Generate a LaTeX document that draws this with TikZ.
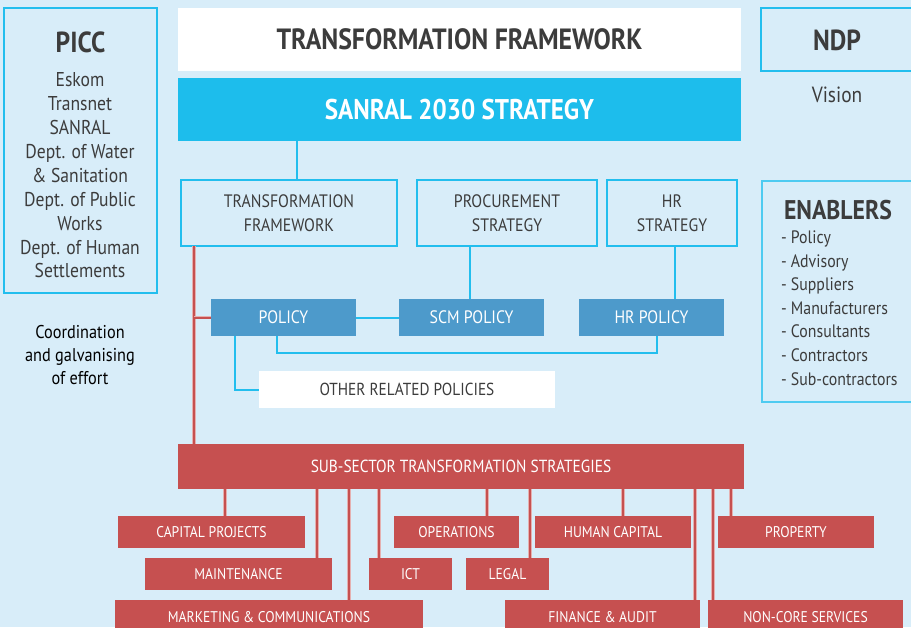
\documentclass[tikz,border=0pt]{standalone}
\usepackage{fontspec}
\setmainfont{PT Sans}[FakeStretch=0.88]
\usetikzlibrary{positioning}

\definecolor{bgblue}{HTML}{D8EDF9}
\definecolor{skyline}{HTML}{22BEEE}
\definecolor{sanralcyan}{HTML}{1DBDEC}
\definecolor{policyblue}{HTML}{4D9ACB}
\definecolor{sectorred}{HTML}{C65050}
\definecolor{textgray}{HTML}{3C3C3C}

\begin{document}
\begin{tikzpicture}[x=1pt, y=-1pt,
  every node/.style={inner sep=0pt, outer sep=0pt, text=textgray},
  frame/.style={draw=skyline, line width=2.4pt, anchor=north west},
  labelbox/.style={frame, fill=bgblue, minimum height=66pt, align=center, text depth=0pt, font=\fontsize{18}{23.5}\selectfont},
  polbox/.style={fill=policyblue, text=white, anchor=north west, minimum height=37pt, text depth=0pt, font=\fontsize{18}{20}\selectfont},
  redbox/.style={fill=sectorred, text=white, anchor=north west, minimum height=32pt, text depth=0pt, font=\fontsize{15.5}{18}\selectfont},
  headfont/.style={font=\fontsize{29}{32}\bfseries\selectfont},
  bodyfont/.style={font=\fontsize{20}{23.9}\selectfont, align=center},
  blueline/.style={draw=skyline, line width=2pt},
  redline/.style={draw=sectorred, line width=2pt, preaction={draw=white!55!sectorred, line width=3.4pt}},
]
\useasboundingbox (0,0) rectangle (911,627);
\clip (0,0) rectangle (911,627);
\fill[bgblue] (0,0) rectangle (911,627);

% left column
\node[frame, minimum width=153pt, minimum height=285pt] (picc) at (4,8) {};
\node[headfont, below=34pt of picc.north, anchor=center] (piccname) {PICC};
\node[bodyfont] (picclist) at (80,175.5) {Eskom\\Transnet\\SANRAL\\Dept. of Water\\\& Sanitation\\Dept. of Public\\Works\\Dept. of Human\\Settlements};
\node[font=\fontsize{18.5}{23}\selectfont, align=center, text=black] (coord) at (80,355) {Coordination\\and galvanising\\of effort};

% headings
\node[fill=white, anchor=north west, minimum width=563pt, minimum height=63pt, font=\fontsize{29.3}{32}\bfseries\selectfont] (tfhead) at (178,8) {TRANSFORMATION FRAMEWORK};
\node[fill=sanralcyan, text=white, anchor=north west, minimum width=563pt, minimum height=63pt, font=\fontsize{28.5}{32}\bfseries\selectfont] (sanral) at (178,78) {SANRAL 2030 STRATEGY};

% strategies
\node[labelbox, minimum width=216pt] (tf) at (181,180) {TRANSFORMATION\\FRAMEWORK};
\node[labelbox, minimum width=180pt] (proc) at (417,180) {PROCUREMENT\\STRATEGY};
\node[labelbox, minimum width=130pt] (hrs) at (607,180) {HR\\STRATEGY};

% policies
\node[polbox, minimum width=145pt] (policy) at (211,299) {POLICY};
\node[polbox, minimum width=145pt] (scm) at (399,299) {SCM POLICY};
\node[polbox, minimum width=145pt] (hrpol) at (579,299) {HR POLICY};
\node[fill=white, anchor=north west, minimum width=296pt, minimum height=37pt, text depth=0pt, font=\fontsize{17.4}{20}\selectfont] (other) at (259,371) {OTHER RELATED POLICIES};

% right column
\node[frame, minimum width=160pt, minimum height=63pt] (ndp) at (761,8) {};
\node[headfont] (ndpname) at (837,40) {NDP};
\node[font=\fontsize{22}{26}\selectfont] (vision) at (837,95) {Vision};
\node[frame, draw=skyline!80, minimum width=160pt, minimum height=221pt] (enablers) at (762,181) {};
\node[font=\fontsize{27}{30}\bfseries\selectfont] (enabname) at (838,210) {ENABLERS};
\node[anchor=west, align=left, font=\fontsize{18}{23.6}\selectfont] (enablist) at (781,308) {- Policy\\- Advisory\\- Suppliers\\- Manufacturers\\- Consultants\\- Contractors\\- Sub-contractors};

% sub-sector strategies
\node[redbox, minimum width=566pt, minimum height=45pt, font=\fontsize{17.5}{20}\selectfont] (subsector) at (178,444) {SUB-SECTOR TRANSFORMATION STRATEGIES};
\node[redbox, minimum width=187pt] (cap) at (118,516) {CAPITAL PROJECTS};
\node[redbox, minimum width=125pt] (ops) at (394,516) {OPERATIONS};
\node[redbox, minimum width=156pt] (hum) at (535,516) {HUMAN CAPITAL};
\node[redbox, minimum width=156pt] (prop) at (718,516) {PROPERTY};
\node[redbox, minimum width=187pt] (maint) at (145,558) {MAINTENANCE};
\node[redbox, minimum width=83pt] (ict) at (369,558) {ICT};
\node[redbox, minimum width=83pt] (legal) at (466,558) {LEGAL};
\node[redbox, minimum width=308pt, minimum height=34pt] (mkt) at (115,600) {MARKETING \& COMMUNICATIONS};
\node[redbox, minimum width=195pt, minimum height=34pt] (fin) at (505,600) {FINANCE \& AUDIT};
\node[redbox, minimum width=195pt, minimum height=34pt] (noncore) at (708,600) {NON-CORE SERVICES};

% connectors
\coordinate (tfdrop) at (297,0);
\coordinate (scmdrop) at (470,0);
\coordinate (hrdrop) at (675,0);
\coordinate (polfork) at (277,353);
\coordinate (hrfork) at (657,0);
\coordinate (otherdrop) at (235,0);
\coordinate (spine) at (194,0);

\draw[blueline] (sanral.south -| tfdrop) -- (tf.north -| tfdrop);
\draw[blueline] (proc.south -| scmdrop) -- (scm.north -| scmdrop);
\draw[blueline] (hrs.south -| hrdrop) -- (hrpol.north -| hrdrop);
\draw[blueline] (policy.east) -- (scm.west);
\draw[blueline] (policy.south -| polfork) -- (polfork) -| (hrpol.south -| hrfork);
\draw[blueline] (policy.south -| otherdrop) |- (other.west);

\draw[redline] (tf.south -| spine) -- (subsector.north -| spine);
\draw[redline] (policy.west -| spine) -- (policy.west);
\foreach \xx/\nn in {225/cap, 317/maint, 349/mkt, 379/ict, 487/ops, 530/legal, 623/hum, 695/fin, 713/noncore, 731/prop} {
  \coordinate (tap) at (\xx,0);
  \draw[redline] (subsector.south -| tap) -- (\nn.north -| tap);
}
\end{tikzpicture}
\end{document}
